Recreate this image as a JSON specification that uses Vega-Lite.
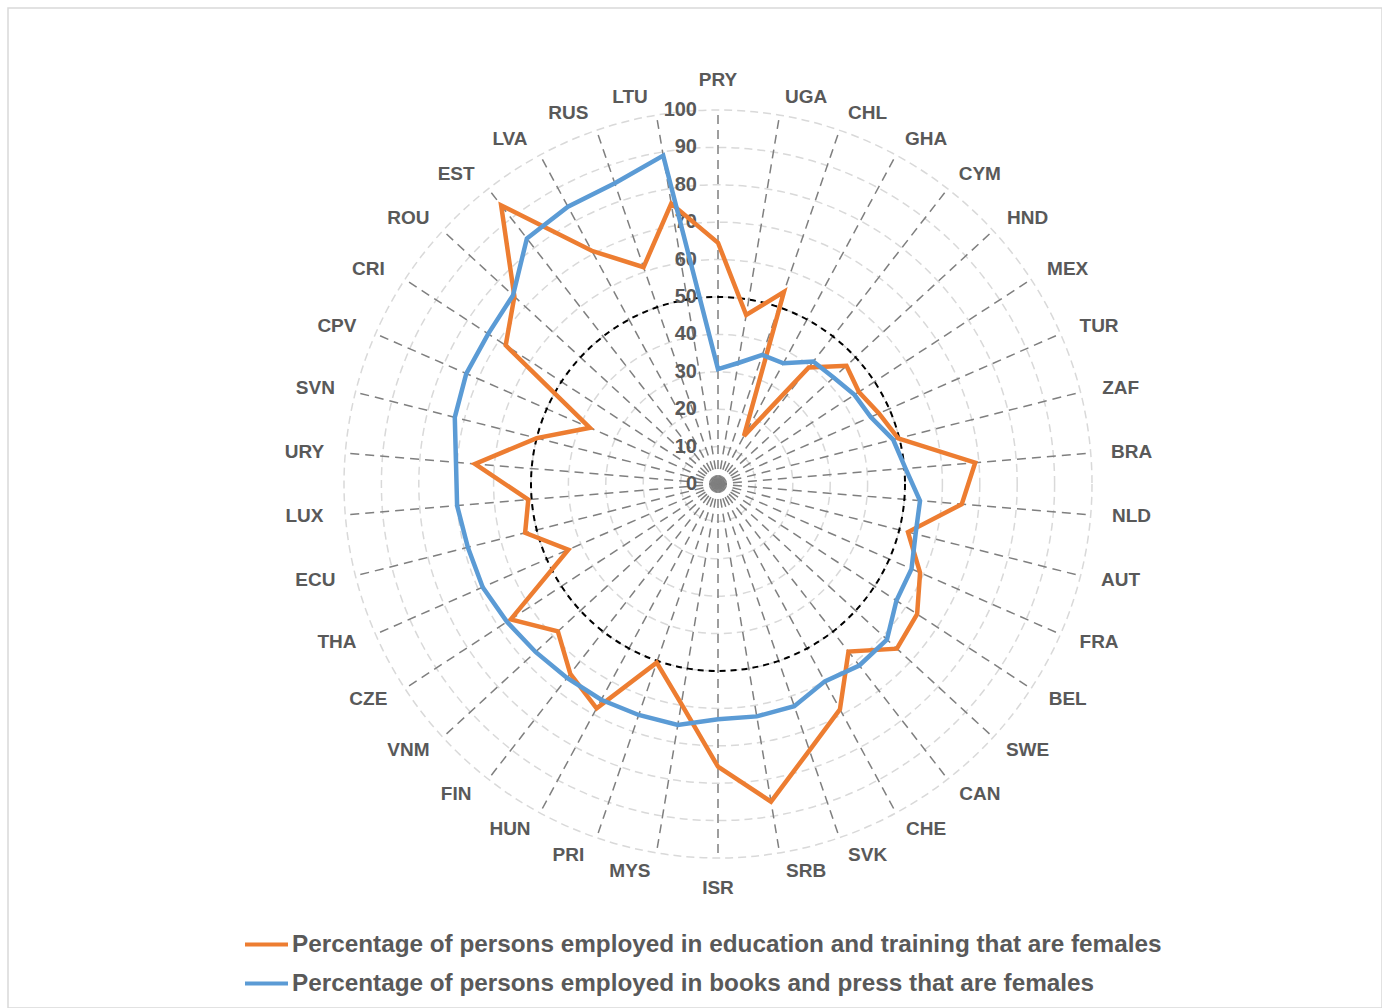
{
  "$schema": "https://vega.github.io/schema/vega-lite/v6.json",
  "width": 1374,
  "height": 1000,
  "autosize": "none",
  "padding": {"left": 8, "top": 8, "right": 0, "bottom": 0},
  "background": "white",
  "config": {"view": {"stroke": "#d9d9d9", "strokeWidth": 1.5}, "font": "Liberation Sans"},
  "datasets": {
    "d": [
      {"country": "PRY", "edu": 64.5, "books": 30.7},
      {"country": "UGA", "edu": 45.8, "books": 32.8},
      {"country": "CHL", "edu": 54.3, "books": 36.5},
      {"country": "GHA", "edu": 14.6, "books": 36.7},
      {"country": "CYM", "edu": 39.5, "books": 41.5},
      {"country": "HND", "edu": 46.7, "books": 42.0},
      {"country": "MEX", "edu": 45.0, "books": 43.6},
      {"country": "TUR", "edu": 47.0, "books": 44.6},
      {"country": "ZAF", "edu": 49.7, "books": 48.3},
      {"country": "BRA", "edu": 69.0, "books": 50.3},
      {"country": "NLD", "edu": 65.4, "books": 54.2},
      {"country": "AUT", "edu": 52.4, "books": 54.5},
      {"country": "FRA", "edu": 59.0, "books": 56.5},
      {"country": "BEL", "edu": 63.6, "books": 57.0},
      {"country": "SWE", "edu": 65.0, "books": 61.4},
      {"country": "CAN", "edu": 56.8, "books": 61.5},
      {"country": "CHE", "edu": 68.5, "books": 60.0},
      {"country": "SVK", "edu": 75.3, "books": 62.8},
      {"country": "SRB", "edu": 86.1, "books": 63.0},
      {"country": "ISR", "edu": 75.6, "books": 62.9},
      {"country": "MYS", "edu": 59.6, "books": 65.3},
      {"country": "PRI", "edu": 50.5, "books": 65.3},
      {"country": "HUN", "edu": 68.2, "books": 65.6},
      {"country": "FIN", "edu": 64.3, "books": 65.7},
      {"country": "VNM", "edu": 58.2, "books": 66.3},
      {"country": "CZE", "edu": 66.2, "books": 67.4},
      {"country": "THA", "edu": 43.7, "books": 68.7},
      {"country": "ECU", "edu": 53.2, "books": 69.0},
      {"country": "LUX", "edu": 50.9, "books": 70.0},
      {"country": "URY", "edu": 65.2, "books": 70.3},
      {"country": "SVN", "edu": 50.0, "books": 72.6},
      {"country": "CPV", "edu": 37.4, "books": 73.5},
      {"country": "CRI", "edu": 67.8, "books": 73.4},
      {"country": "ROU", "edu": 74.0, "books": 74.5},
      {"country": "EST", "edu": 94.4, "books": 83.2},
      {"country": "LVA", "edu": 70.9, "books": 84.3},
      {"country": "RUS", "edu": 61.3, "books": 85.0},
      {"country": "LTU", "edu": 76.0, "books": 89.0}
    ],
    "ticks": [
      {"r": 0}, {"r": 10}, {"r": 20}, {"r": 30}, {"r": 40}, {"r": 50},
      {"r": 60}, {"r": 70}, {"r": 80}, {"r": 90}, {"r": 100}
    ]
  },
  "layer": [
    {
      "data": {"name": "ticks"},
      "transform": [{"filter": "datum.r > 0"}],
      "mark": {"type": "point", "shape": "circle", "filled": false, "stroke": "#d9d9d9", "strokeWidth": 1.5, "strokeDash": [8, 5], "opacity": 1},
      "encoding": {
        "x": {"datum": 0, "type": "quantitative", "scale": {"domain": [-189.84, 177.54], "nice": false, "zero": false}, "axis": null},
        "y": {"datum": 0, "type": "quantitative", "scale": {"domain": [-140.11, 127.27], "nice": false, "zero": false}, "axis": null},
        "size": {"field": "r", "type": "quantitative", "scale": {"type": "pow", "exponent": 2, "domain": [0, 100], "range": [0, 559504], "zero": true}, "legend": null}
      }
    },
    {
      "data": {"name": "d"},
      "transform": [
        {"window": [{"op": "row_number", "as": "idx"}]},
        {"calculate": "(datum.idx - 1) * 2 * PI / 38", "as": "ang"},
        {"calculate": "0", "as": "z0"},
        {"calculate": "100 * sin(datum.ang)", "as": "sx"},
        {"calculate": "100 * cos(datum.ang)", "as": "sy"}
      ],
      "mark": {"type": "rule", "stroke": "#7f7f7f", "strokeWidth": 1.5, "strokeDash": [9, 6]},
      "encoding": {
        "x": {"field": "z0", "type": "quantitative"},
        "y": {"field": "z0", "type": "quantitative"},
        "x2": {"field": "sx"},
        "y2": {"field": "sy"}
      }
    },
    {
      "data": {"name": "ticks"},
      "transform": [{"filter": "datum.r == 50"}],
      "mark": {"type": "point", "shape": "circle", "filled": false, "stroke": "#000000", "strokeWidth": 2, "strokeDash": [6, 5], "opacity": 1},
      "encoding": {
        "x": {"datum": 0, "type": "quantitative"},
        "y": {"datum": 0, "type": "quantitative"},
        "size": {"field": "r", "type": "quantitative"}
      }
    },
    {
      "data": {"name": "ticks"},
      "mark": {"type": "text", "align": "right", "baseline": "middle", "dx": -21, "fontSize": 20, "fontWeight": "bold", "fill": "#595959"},
      "encoding": {
        "x": {"datum": 0, "type": "quantitative"},
        "y": {"field": "r", "type": "quantitative"},
        "text": {"field": "r", "type": "quantitative"}
      }
    },
    {
      "data": {"name": "d"},
      "transform": [
        {"window": [{"op": "row_number", "as": "idx"}]},
        {"calculate": "(datum.idx - 1) * 2 * PI / 38", "as": "ang"},
        {"calculate": "sin(datum.ang)", "as": "s"},
        {"calculate": "cos(datum.ang)", "as": "c"},
        {"calculate": "abs(datum.s) < 0.01", "as": "vert"},
        {"calculate": "102.4 + 1.87 * datum.s * datum.s", "as": "lr"},
        {"calculate": "datum.lr * datum.s + (datum.vert ? 0 : (datum.s > 0 ? 6.68 : -6.68))", "as": "lx"},
        {"calculate": "datum.lr * datum.c + 2.41 * datum.c * abs(datum.c) + (datum.vert ? (datum.c > 0 ? 3.2 : -3.2) : 0)", "as": "ly"}
      ],
      "mark": {"type": "text", "align": "center", "baseline": "middle", "fontSize": 19, "fontWeight": "bold", "fill": "#595959"},
      "encoding": {
        "x": {"field": "lx", "type": "quantitative"},
        "y": {"field": "ly", "type": "quantitative"},
        "text": {"field": "country"}
      }
    },
    {
      "data": {"name": "d"},
      "transform": [
        {"window": [{"op": "row_number", "as": "idx"}]},
        {"calculate": "(datum.idx - 1) * 2 * PI / 38", "as": "ang"},
        {"fold": ["edu", "books"], "as": ["key", "val"]},
        {"calculate": "datum.val * sin(datum.ang)", "as": "px"},
        {"calculate": "datum.val * cos(datum.ang)", "as": "py"}
      ],
      "mark": {"type": "line", "interpolate": "linear-closed", "strokeWidth": 4.5},
      "encoding": {
        "x": {"field": "px", "type": "quantitative"},
        "y": {"field": "py", "type": "quantitative"},
        "order": {"field": "idx", "type": "quantitative"},
        "color": {
          "field": "key",
          "type": "nominal",
          "scale": {"domain": ["edu", "books"], "range": ["#ED7D31", "#5B9BD5"]},
          "legend": {
            "orient": "none",
            "legendX": 235,
            "legendY": 913,
            "direction": "vertical",
            "title": null,
            "symbolType": "stroke",
            "symbolSize": 1849,
            "symbolStrokeWidth": 4,
            "labelFont": "Liberation Sans",
            "labelFontSize": 24.3,
            "labelFontWeight": "bold",
            "labelColor": "#595959",
            "labelLimit": 2000,
            "labelOffset": 2,
            "rowPadding": 3,
            "labelExpr": "datum.value == 'edu' ? 'Percentage of persons employed in education and training that are females' : 'Percentage of persons employed in books and press that are females'"
          }
        }
      }
    }
  ]
}
